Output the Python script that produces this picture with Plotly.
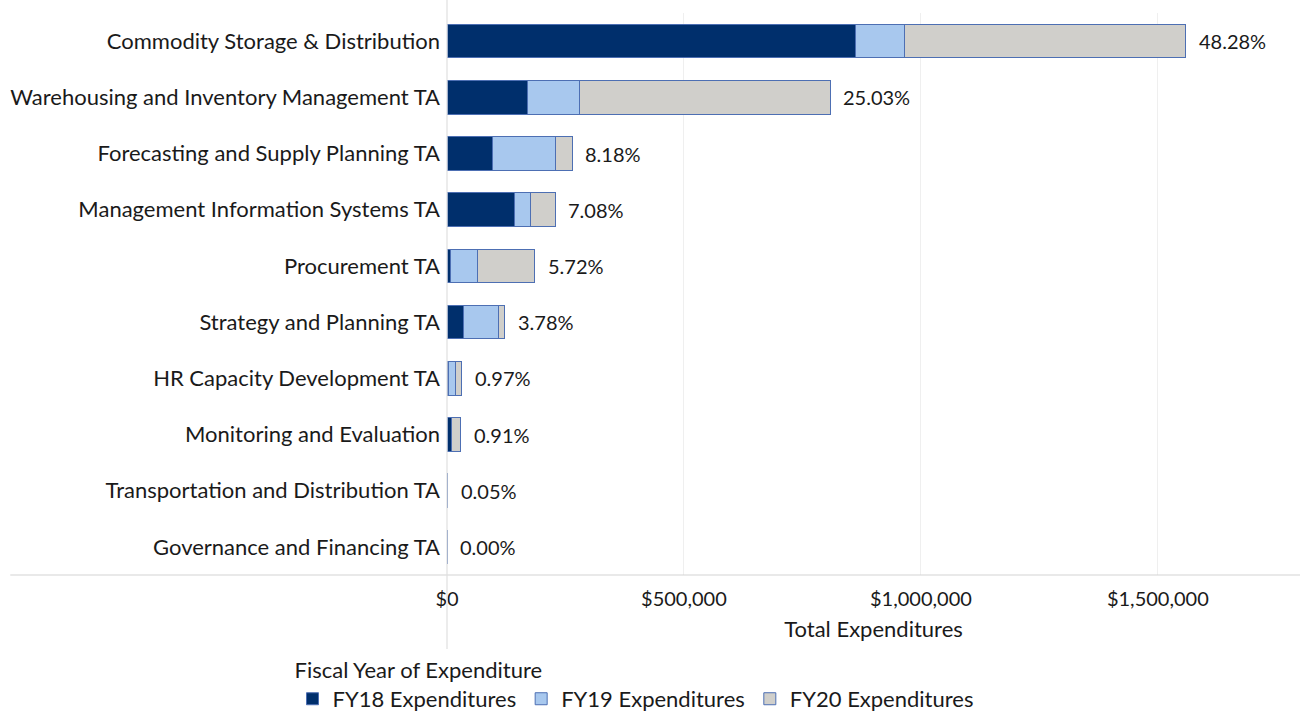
import plotly.graph_objects as go

categories = [
    "Commodity Storage & Distribution",
    "Warehousing and Inventory Management TA",
    "Forecasting and Supply Planning TA",
    "Management Information Systems TA",
    "Procurement TA",
    "Strategy and Planning TA",
    "HR Capacity Development TA",
    "Monitoring and Evaluation",
    "Transportation and Distribution TA",
    "Governance and Financing TA",
]
fy18 = [861000, 169000, 96000, 143000, 7000, 34000, 3500, 10500, 1600, 100]
fy19 = [105000, 110000, 134000, 34000, 57000, 75000, 15000, 0, 0, 0]
fy20 = [593400, 529500, 34200, 51700, 120800, 13100, 12800, 18900, 0, 0]
pct_labels = ["48.28%", "25.03%", "8.18%", "7.08%", "5.72%", "3.78%", "0.97%", "0.91%", "0.05%", "0.00%"]

series = [
    ("FY18 Expenditures", fy18, "#002f6c"),
    ("FY19 Expenditures", fy19, "#a8c8ee"),
    ("FY20 Expenditures", fy20, "#d0cfcb"),
]

FONT = "Lato, 'Open Sans', sans-serif"

fig = go.Figure()
for name, vals, col in series:
    fig.add_trace(go.Bar(
        y=categories, x=vals, name=name, orientation="h",
        marker=dict(color=col, line=dict(color="#4d6fb3", width=1)),
        width=0.6,
    ))

totals = [a + b + c for a, b, c in zip(fy18, fy19, fy20)]
for cat, tot, lab in zip(categories, totals, pct_labels):
    fig.add_annotation(x=tot, y=cat, text=lab, showarrow=False,
                       xanchor="left", xshift=11,
                       font=dict(size=20, color="#1a1a1a", family=FONT))

# Tableau-like axis lines
fig.add_shape(type="line", xref="paper", yref="paper",
              x0=-0.512, x1=1.0, y0=0, y1=0,
              line=dict(color="#d4d4d4", width=1.2))
fig.add_shape(type="line", xref="paper", yref="paper",
              x0=0, x1=0, y0=1.025, y1=-0.133,
              line=dict(color="#e0e0e0", width=1.2))

fig.update_layout(
    width=1300, height=712,
    margin=dict(l=447, r=0, t=13, b=137, autoexpand=False),
    barmode="stack",
    paper_bgcolor="white", plot_bgcolor="white",
    font=dict(family=FONT, size=20, color="#1a1a1a"),
    showlegend=True,
    legend=dict(
        orientation="h", xref="container", yref="container",
        x=0.225, y=0.088, xanchor="left", yanchor="top",
        traceorder="normal",
        title=dict(text="Fiscal Year of Expenditure", side="top",
                   font=dict(size=22, family=FONT)),
        font=dict(size=22, family=FONT),
        itemwidth=30, tracegroupgap=0,
    ),
    xaxis=dict(
        range=[0, 1800000],
        tickvals=[0, 500000, 1000000, 1500000],
        ticktext=["$0", "$500,000", "$1,000,000", "$1,500,000"],
        showgrid=True, gridcolor="#efefef", gridwidth=1,
        zeroline=False, showline=False, automargin=False,
        tickfont=dict(size=20, family=FONT),
        ticklabelstandoff=10,
        title=dict(text="Total Expenditures", standoff=12,
                   font=dict(size=22, family=FONT)),
        fixedrange=True,
    ),
    yaxis=dict(
        categoryorder="array", categoryarray=categories,
        autorange="reversed", automargin=False,
        showgrid=False, zeroline=False, showline=False,
        tickfont=dict(size=22, family=FONT),
        ticklabelstandoff=6,
        fixedrange=True,
    ),
)

fig.write_html("out.html",
               config={"displayModeBar": False},
               post_script="document.body.style.margin='0';document.body.style.overflow='hidden';")
